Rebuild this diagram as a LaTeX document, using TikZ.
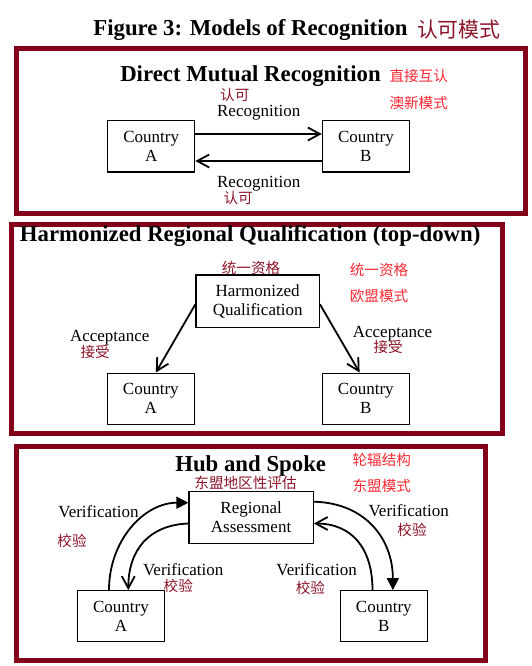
\documentclass[tikz,border=0pt]{standalone}
\usepackage{fontspec}
\setmainfont{Liberation Serif}
\newfontfamily\cjk{Noto Sans CJK SC}
\usetikzlibrary{arrows.meta}
\definecolor{frame}{RGB}{130,0,26}
\definecolor{cndark}{RGB}{140,20,40}
\definecolor{cnbright}{RGB}{250,40,50}
\tikzset{
  panel/.style={draw=frame, line width=5pt},
  box/.style={draw, line width=1.3pt, minimum width=87pt, minimum height=51pt, align=center, inner sep=0pt, font=\fontsize{17}{18.7}\selectfont},
  lbl/.style={anchor=base, inner sep=0pt, font=\fontsize{17}{18.7}\selectfont},
  ttl/.style={anchor=base, inner sep=0pt, font=\fontsize{22.8}{26}\selectfont\bfseries},
  cn/.style={inner sep=0pt, font=\cjk\fontsize{14.6}{16}\selectfont, text=cndark},
  cnb/.style={cn, text=cnbright},
  barb/.style={line width=1.8pt, -{Straight Barb[length=12pt,width=13pt]}},
  tri/.style={line width=1.8pt, -{Triangle[length=12pt,width=12pt]}}
}
\begin{document}
\begin{tikzpicture}[x=1pt,y=-1pt]
\useasboundingbox (0,0) rectangle (531,666);
% title
\node[ttl] (title) at (250.5,36) {Figure 3: Models of Recognition};
\node[cn, font=\cjk\fontsize{20.9}{23}\selectfont] (titlecn) at (458.8,29.5) {认可模式};

% ---------- panel 1
\draw[panel] (16,48.5) rectangle (525.3,213.3);
\node[ttl] (t1) at (250.5,81.7) {Direct Mutual Recognition};
\node[cnb] (t1a) at (418.7,76.3) {直接互认};
\node[cnb] (t1b) at (418.7,102.7) {澳新模式};
\node[box] (A1) at (151.2,146.35) {Country\\A};
\node[box] (B1) at (365.9,146.35) {Country\\B};
\node[cn] (r1cn) at (234.8,95) {认可};
\node[lbl] (r1) at (258.7,117) {Recognition};
\node[lbl] (r2) at (258.7,187.3) {Recognition};
\node[cn] (r2cn) at (238.2,197.8) {认可};
\draw[barb] ([yshift=12.35pt]A1.east) -- ([yshift=12.35pt]B1.west);
\draw[barb] ([yshift=-14.65pt]B1.west) -- ([yshift=-14.65pt]A1.east);

% ---------- panel 2
\draw[panel] (11,224.2) rectangle (502,433.5);
\node[ttl] (t2) at (250.2,241.7) {Harmonized Regional Qualification (top-down)};
\node[cn] (h2cn) at (251,267.5) {统一资格};
\node[cnb] (t2a) at (379,269.7) {统一资格};
\node[cnb] (t2b) at (379,295.7) {欧盟模式};
\node[box, minimum width=123.3pt, minimum height=52.3pt] (H) at (257.65,301.15) {Harmonized\\Qualification};
\node[box] (A2) at (150.85,398.65) {Country\\A};
\node[box] (B2) at (365.8,398.65) {Country\\B};
\node[lbl] (acl) at (109.7,341) {Acceptance};
\node[cn] (acla) at (95.1,352) {接受};
\node[lbl] (acr) at (392.5,337.3) {Acceptance};
\node[cn] (acra) at (388.1,347) {接受};
\draw[barb] ([yshift=-3.15pt]H.west) -- ([xshift=5pt]A2.north);
\draw[barb] ([yshift=-3.15pt]H.east) -- ([xshift=-6.2pt]B2.north);

% ---------- panel 3
\draw[panel] (16,446.5) rectangle (485,660.8);
\node[ttl] (t3) at (250.7,471.7) {Hub and Spoke};
\node[cnb] (t3a) at (381.8,460) {轮辐结构};
\node[cnb] (t3b) at (381.8,485.8) {东盟模式};
\node[cn] (rcn) at (245.5,483.3) {东盟地区性评估};
\node[box, minimum width=124.2pt, minimum height=51.6pt] (R) at (251.1,517.5) {Regional\\Assessment};
\node[box] (A3) at (120.9,616.2) {Country\\A};
\node[box] (B3) at (383.85,616.2) {Country\\B};
\node[lbl] (v1) at (98.5,517.3) {Verification};
\node[cn] (v1cn) at (72,541.2) {校验};
\node[lbl] (v2) at (408.7,516) {Verification};
\node[cn] (v2cn) at (412,529.5) {校验};
\node[lbl] (v3) at (183.2,575) {Verification};
\node[cn] (v3cn) at (178.3,585.5) {校验};
\node[lbl] (v4) at (316.6,575) {Verification};
\node[cn] (v4cn) at (310.4,587.5) {校验};
\draw[tri] ([xshift=-11.9pt]A3.north) .. controls +(0,-50) and +(-44,0) .. ([yshift=14.8pt]R.west);
\draw[barb] ([yshift=-6pt]R.west) .. controls +(-39,1.5) and +(0,-40.7) .. ([xshift=7.4pt]A3.north);
\draw[tri] ([yshift=15.8pt]R.east) .. controls +(52,1.3) and +(0,-50.7) .. ([xshift=9pt]B3.north);
\draw[barb] ([xshift=-11.35pt]B3.north) .. controls +(0,-43) and +(37,0) .. ([yshift=-6pt]R.east);
\end{tikzpicture}
\end{document}
